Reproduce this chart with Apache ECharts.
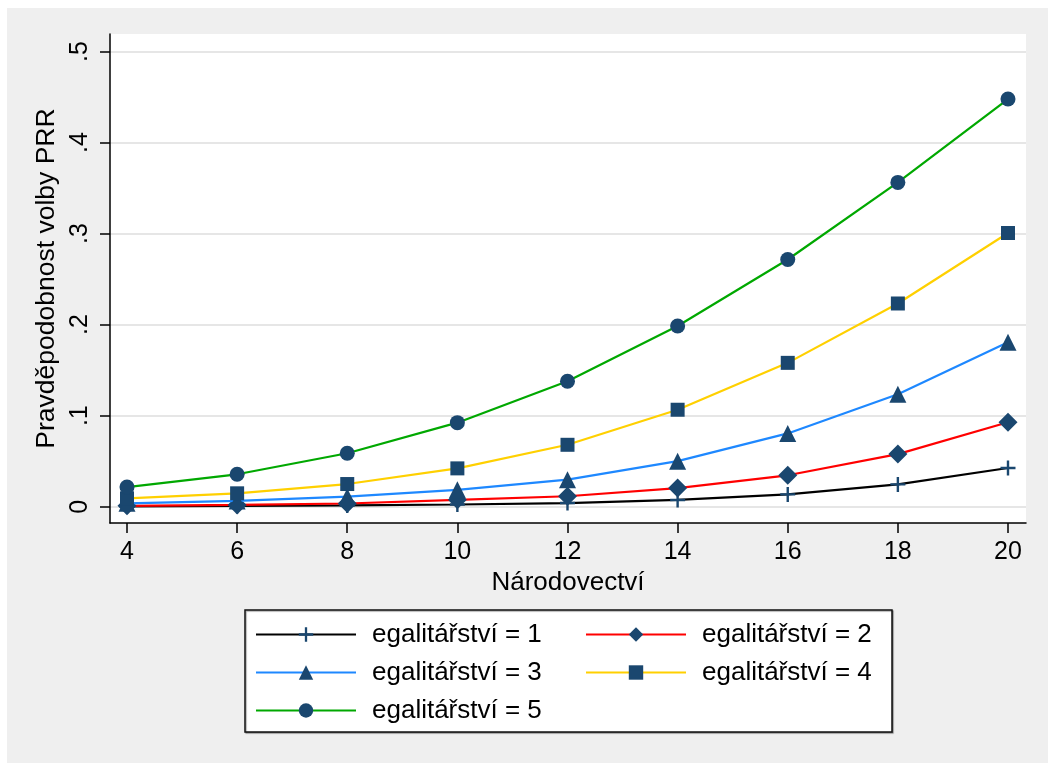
<!DOCTYPE html>
<html><head><meta charset="utf-8">
<script src="https://cdn.jsdelivr.net/npm/echarts@6/dist/echarts.min.js"></script>
<style>
html,body{margin:0;padding:0;background:#ffffff;width:1048px;height:763px;overflow:hidden}
#c{position:absolute;left:7px;top:8px;width:1041px;height:755px}
</style></head>
<body><div id="c"></div>
<script>
// ---- data ----
const xValues = [4, 6, 8, 10, 12, 14, 16, 18, 20];
const xTickValues = [4, 6, 8, 10, 12, 14, 16, 18, 20];
const yTickValues = [0, 0.1, 0.2, 0.3, 0.4, 0.5];
const yTickLabels = ['0', '.1', '.2', '.3', '.4', '.5'];
const seriesNames = ['egalitářství = 1', 'egalitářství = 2', 'egalitářství = 3', 'egalitářství = 4', 'egalitářství = 5'];
const egal1 = [0.0004, 0.0008, 0.0014, 0.0024, 0.0040, 0.0074, 0.0135, 0.0245, 0.0425];
const egal2 = [0.0010, 0.0020, 0.0035, 0.0075, 0.0115, 0.0205, 0.0345, 0.0578, 0.0928];
const egal3 = [0.0037, 0.0063, 0.0110, 0.0185, 0.0297, 0.0500, 0.0805, 0.1236, 0.1805];
const egal4 = [0.0092, 0.0147, 0.0249, 0.0421, 0.0680, 0.1065, 0.1580, 0.2232, 0.3006];
const egal5 = [0.0216, 0.0356, 0.0587, 0.0923, 0.1378, 0.1985, 0.2715, 0.3562, 0.4478];
const xTitle = 'Národovectví';
const yTitle = 'Pravděpodobnost volby PRR';

// ---- styling ----
const FONT = '"Liberation Sans", Arial, Helvetica, sans-serif';
const NAVY = '#1a476f';
const lineColors = ['#000000', '#ff0000', '#1e88ff', '#ffd000', '#00a800'];
const PLUS = 'path://M8.4,0 H11.6 V8.4 H20 V11.6 H11.6 V20 H8.4 V11.6 H0 V8.4 H8.4 Z';
const symbols = [PLUS, 'diamond', 'triangle', 'rect', 'circle'];
const symbolSizes = [15, 19, 17, 14, 15];
const allData = [egal1, egal2, egal3, egal4, egal5];

const series = allData.map((vals, k) => ({
  name: seriesNames[k],
  type: 'line',
  data: xValues.map((x, i) => [x, vals[i]]),
  symbol: symbols[k],
  symbolSize: symbolSizes[k],
  showAllSymbol: true,
  lineStyle: { color: lineColors[k], width: 2.2 },
  itemStyle: { color: NAVY },
  emphasis: { disabled: true },
  z: 2 + k
}));

const legendText = {
  fontFamily: FONT, fontSize: 26, color: '#000', lineHeight: 25,
  width: 175, overflow: 'none', padding: [0, 0, 0, 11]
};

const chart = echarts.init(document.getElementById('c'));
chart.setOption({
  animation: false,
  backgroundColor: '#efefef',
  grid: { left: 103, top: 26, right: 22, bottom: 240, show: true, backgroundColor: '#ffffff', borderWidth: 0 },
  xAxis: {
    type: 'value', min: 3.6913, max: 20.327,
    name: xTitle, nameLocation: 'middle', nameGap: 44,
    nameTextStyle: { fontFamily: FONT, fontSize: 26, color: '#000' },
    axisLine: { show: true, onZero: false, lineStyle: { color: '#000', width: 1.5 } },
    axisTick: { show: true, length: 10, customValues: xTickValues, lineStyle: { color: '#000', width: 1.5 } },
    axisLabel: { customValues: xTickValues, margin: 17, fontFamily: FONT, fontSize: 25, color: '#000' },
    splitLine: { show: false }
  },
  yAxis: {
    type: 'value', min: -0.0179, max: 0.5192,
    name: yTitle, nameLocation: 'middle', nameGap: 45,
    nameTextStyle: { fontFamily: FONT, fontSize: 26.5, color: '#000' },
    axisLine: { show: true, onZero: false, lineStyle: { color: '#000', width: 1.5 } },
    axisTick: { show: true, length: 10, customValues: yTickValues, lineStyle: { color: '#000', width: 1.5 } },
    axisLabel: {
      customValues: yTickValues, rotate: 90, margin: 17, fontFamily: FONT, fontSize: 25, color: '#000',
      formatter: v => { const i = yTickValues.findIndex(t => Math.abs(t - v) < 1e-9); return i >= 0 ? yTickLabels[i] : ''; }
    },
    splitLine: { show: true, lineStyle: { color: '#e6e6e6', width: 2 } }
  },
  legend: [
    {
      data: [seriesNames[0], seriesNames[2], seriesNames[4]],
      orient: 'vertical', left: 238, top: 602, itemGap: 12,
      itemWidth: 100, itemHeight: 18, selectedMode: false,
      padding: [11.5, 345, 8.5, 10],
      backgroundColor: '#ffffff', borderColor: '#111', borderWidth: 1.5,
      shadowColor: 'rgba(0,0,0,0.35)', shadowOffsetX: 1, shadowOffsetY: 1, shadowBlur: 1,
      textStyle: legendText
    },
    {
      data: [seriesNames[1], seriesNames[3]],
      orient: 'vertical', left: 578, top: 613.5, itemGap: 12,
      itemWidth: 100, itemHeight: 18, selectedMode: false, padding: 0,
      textStyle: legendText
    }
  ],
  series: series
});
</script>
</body></html>
